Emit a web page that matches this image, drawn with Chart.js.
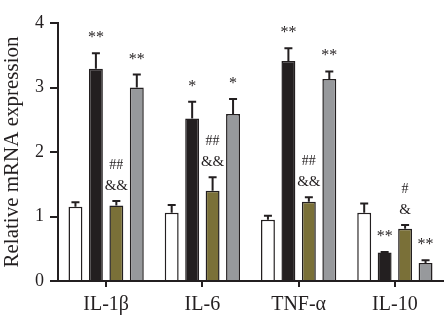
<!DOCTYPE html>
<html>
<head>
<meta charset="utf-8">
<script src="https://cdn.jsdelivr.net/npm/chart.js@4"></script>
<style>
  html, body { margin: 0; padding: 0; background: #fff; }
  #wrap { width: 446px; height: 322px; }
</style>
</head>
<body>
<div id="wrap"><canvas id="mrnaCanvas"></canvas></div>
<script>
const genes = ["IL-1β", "IL-6", "TNF-α", "IL-10"];

// group means
const ctrlVals  = [1.15, 1.06, 0.95, 1.06];
const modelVals = [3.29, 2.52, 3.41, 0.44];
const treatVals = [1.17, 1.40, 1.23, 0.81];
const otherVals = [3.00, 2.59, 3.13, 0.28];

// upper error (SD)
const ctrlSd  = [0.07, 0.12, 0.06, 0.14];
const modelSd = [0.24, 0.26, 0.20, 0.01];
const treatSd = [0.07, 0.21, 0.07, 0.06];
const otherSd = [0.20, 0.23, 0.12, 0.04];

// significance marks above each bar
const ctrlMarks  = ["", "", "", ""];
const modelMarks = ["**", "*", "**", "**"];
const treatMarks = ["##\n&&", "##\n&&", "##\n&&", "#\n&"];
const otherMarks = ["**", "*", "**", "**"];

const yTicks = [0, 1, 2, 3, 4];

const ink = "#231f20";
const serif = "'Liberation Serif', 'DejaVu Serif', serif";

const markSize = { "*": 16, "#": 14, "&": 15 };

const errorBars = {
  id: "errorBars",
  afterDatasetsDraw(chart) {
    const ctx = chart.ctx;
    const y = chart.scales.y;
    chart.data.datasets.forEach((ds, i) => {
      const meta = chart.getDatasetMeta(i);
      meta.data.forEach((bar, j) => {
        const top = y.getPixelForValue(ds.data[j] + ds.sd[j]);
        ctx.save();
        ctx.strokeStyle = ink;
        ctx.lineWidth = 2;
        ctx.beginPath();
        ctx.moveTo(bar.x, bar.y);
        ctx.lineTo(bar.x, top);
        ctx.moveTo(bar.x - 4, top);
        ctx.lineTo(bar.x + 4, top);
        ctx.stroke();

        const lines = ds.marks[j] ? ds.marks[j].split("\n") : [];
        ctx.fillStyle = ink;
        ctx.textAlign = "center";
        ctx.textBaseline = "alphabetic";
        let base = top - 11;
        for (let k = lines.length - 1; k >= 0; k--) {
          const txt = lines[k];
          ctx.font = (markSize[txt[0]] || 15) + "px " + serif;
          ctx.fillText(txt, bar.x, base);
          base -= 21;
        }
        ctx.restore();
      });
    });
  }
};

new Chart(document.getElementById("mrnaCanvas"), {
  type: "bar",
  data: {
    labels: genes,
    datasets: [
      { data: ctrlVals,  sd: ctrlSd,  marks: ctrlMarks,  backgroundColor: "#ffffff" },
      { data: modelVals, sd: modelSd, marks: modelMarks, backgroundColor: "#231f20" },
      { data: treatVals, sd: treatSd, marks: treatMarks, backgroundColor: "#7a7038" },
      { data: otherVals, sd: otherSd, marks: otherMarks, backgroundColor: "#97999c" }
    ].map(d => Object.assign(d, {
      borderColor: ink,
      borderWidth: 1.5,
      categoryPercentage: 0.85,
      barPercentage: 0.68
    }))
  },
  options: {
    responsive: true,
    maintainAspectRatio: false,
    animation: false,
    layout: { padding: { top: 23, right: 3, left: 0, bottom: 0 } },
    plugins: { legend: { display: false }, tooltip: { enabled: false } },
    scales: {
      x: {
        afterFit: s => { s.height = 41; },
        grid: { offset: false, drawOnChartArea: false, tickLength: 6, color: ink, lineWidth: 2 },
        border: { color: ink, width: 2 },
        ticks: { color: ink, padding: 6, font: { family: serif, size: 20 } }
      },
      y: {
        min: 0,
        max: 4,
        afterFit: s => { s.width = 58; },
        afterBuildTicks: s => { s.ticks = yTicks.map(v => ({ value: v })); },
        grid: { drawOnChartArea: false, tickLength: 8, color: ink, lineWidth: 2 },
        border: { color: ink, width: 2 },
        ticks: { color: ink, padding: 6, font: { family: serif, size: 18 } },
        title: {
          display: true,
          text: "Relative mRNA expression",
          color: ink,
          padding: 0,
          font: { family: serif, size: 21 }
        }
      }
    }
  },
  plugins: [errorBars]
});
</script>
</body>
</html>
